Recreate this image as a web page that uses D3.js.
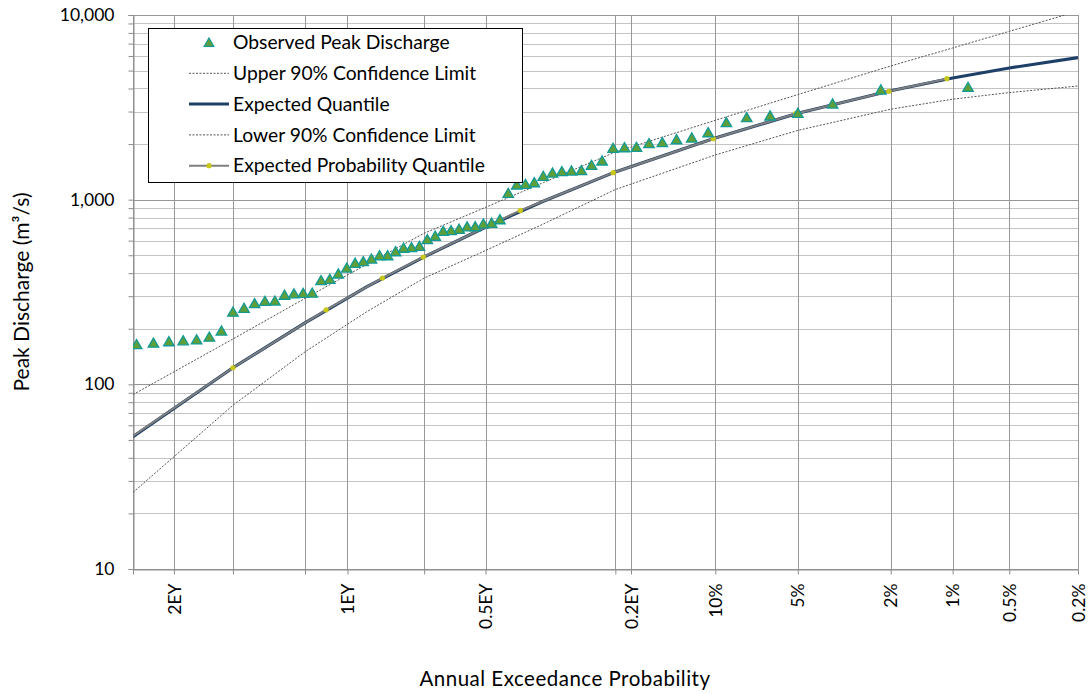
<!DOCTYPE html>
<html>
<head>
<meta charset="utf-8">
<script src="https://cdn.jsdelivr.net/npm/d3@7"></script>
<style>
  html, body { margin: 0; padding: 0; background: #fff; }
  svg { display: block; font-family: "Lato", "Liberation Sans", sans-serif; }
</style>
</head>
<body>
<svg id="chart" width="1090" height="694"></svg>
<script>
// ---------------- DATA ----------------
// Observed annual peaks (rank 1 = largest), plotting-position AEP and discharge (m3/s)
const obsAEP = [0.00833,0.0222,0.0361,0.0500,0.0639,0.0778,0.0917,0.1056,0.1194,0.1333,
  0.1472,0.1611,0.1750,0.1889,0.2028,0.2167,0.2306,0.2444,0.2583,0.2722,
  0.2861,0.3000,0.3139,0.3278,0.3417,0.3556,0.3694,0.3833,0.3972,0.4111,
  0.4250,0.4389,0.4528,0.4667,0.4806,0.4944,0.5083,0.5222,0.5361,0.5500,
  0.5639,0.5778,0.5917,0.6056,0.6194,0.6333,0.6472,0.6611,0.6750,0.6889,
  0.7028,0.7167,0.7306,0.7444,0.7583,0.7722,0.7861,0.8000,0.8139,0.8278,
  0.8417,0.8556,0.8694,0.8833,0.8972];
const obsQ = [4010,3877,3256,2900,2804,2745,2579,2276,2131,2086,
  2010,1985,1897,1888,1874,1600,1516,1418,1412,1400,
  1377,1322,1220,1196,1186,1069,769,736,729,705,
  703,683,671,666,626,600,552,543,539,516,
  491,491,471,456,447,421,391,366,360,308,
  307,305,300,279,278,270,255,243,192,178,
  172,170,168,165,162];

// Fitted curves at these AEPs
const curveAEP  = [0.9, 0.8, 0.7, 0.6, 0.5, 0.4, 0.3, 0.2, 0.1, 0.05, 0.02, 0.01, 0.005, 0.002];
const expectedQ = [52, 123, 215, 337, 490, 694, 981, 1414, 2158, 2936, 3891, 4559, 5164, 5872];
const upperQ    = [88, 176, 292, 446, 658, 890, 1237, 1812, 2690, 3707, 5295, 6627, 8159, 10486];
const lowerQ    = [26, 77, 150, 247, 376, 519, 738, 1135, 1746, 2372, 3090, 3500, 3801, 4126];

// Expected probability quantile points
const epAEP = [0.95, 0.8, 0.667, 0.573, 0.5016, 0.336, 0.2026, 0.1016, 0.0510, 0.0204, 0.0107];
const epQ   = [26, 123, 253, 376, 489, 874, 1400, 2139, 2922, 3862, 4519];

// Axis ticks
const xTickAEP    = [0.9, 0.864665, 0.8, 0.7, 0.632121, 0.5, 0.393469, 0.2, 0.181269, 0.1, 0.05, 0.02, 0.01, 0.005, 0.002];
const xTickLabels = ["", "2EY", "", "", "1EY", "", "0.5EY", "", "0.2EY", "10%", "5%", "2%", "1%", "0.5%", "0.2%"];
const yMajorTicks = [10, 100, 1000, 10000];
const yMinorTicks = [20,30,40,50,60,70,80,90,200,300,400,500,600,700,800,900,2000,3000,4000,5000,6000,7000,8000,9000];

const legendItems = ["Observed Peak Discharge", "Upper 90% Confidence Limit", "Expected Quantile",
                     "Lower 90% Confidence Limit", "Expected Probability Quantile"];

// ---------------- HELPERS ----------------
function probit(p) {
  const a=[-3.969683028665376e+01,2.209460984245205e+02,-2.759285104469687e+02,1.383577518672690e+02,-3.066479806614716e+01,2.506628277459239e+00];
  const b=[-5.447609879822406e+01,1.615858368580409e+02,-1.556989798598866e+02,6.680131188771972e+01,-1.328068155288572e+01];
  const c=[-7.784894002430293e-03,-3.223964580411365e-01,-2.400758277161838e+00,-2.549732539343734e+00,4.374664141464968e+00,2.938163982698783e+00];
  const d=[7.784695709041462e-03,3.224671290700398e-01,2.445134137142996e+00,3.754408661907416e+00];
  const pl=0.02425, ph=1-pl;
  let q, r;
  if (p < pl) { q=Math.sqrt(-2*Math.log(p)); return (((((c[0]*q+c[1])*q+c[2])*q+c[3])*q+c[4])*q+c[5])/((((d[0]*q+d[1])*q+d[2])*q+d[3])*q+1); }
  if (p <= ph) { q=p-0.5; r=q*q; return (((((a[0]*r+a[1])*r+a[2])*r+a[3])*r+a[4])*r+a[5])*q/(((((b[0]*r+b[1])*r+b[2])*r+b[3])*r+b[4])*r+1); }
  q=Math.sqrt(-2*Math.log(1-p)); return -(((((c[0]*q+c[1])*q+c[2])*q+c[3])*q+c[4])*q+c[5])/((((d[0]*q+d[1])*q+d[2])*q+d[3])*q+1);
}
const zOf = aep => probit(1 - aep);

// ---------------- LAYOUT ----------------
const L = 133, R = 1078, T = 15, B = 569;
const svg = d3.select("#chart");

const xz = d3.scaleLinear().domain([zOf(0.9), zOf(0.002)]).range([L, R]);
const x = aep => xz(zOf(aep));
const y = d3.scaleLog().domain([10, 10000]).range([B, T]);

svg.append("defs").append("clipPath").attr("id", "plotclip")
  .append("rect").attr("x", L).attr("y", T).attr("width", R - L).attr("height", B - T);

// gridlines
const grid = svg.append("g");
grid.selectAll("line.hmin").data(yMinorTicks).join("line")
  .attr("x1", L).attr("x2", R).attr("y1", d => Math.round(y(d)) + 0.5).attr("y2", d => Math.round(y(d)) + 0.5)
  .attr("stroke", "#c4c4c4").attr("stroke-width", 1);
grid.selectAll("line.hmaj").data(yMajorTicks).join("line")
  .attr("x1", L).attr("x2", R).attr("y1", d => Math.round(y(d)) + 0.5).attr("y2", d => Math.round(y(d)) + 0.5)
  .attr("stroke", "#979797").attr("stroke-width", 1);
grid.selectAll("line.v").data(xTickAEP).join("line")
  .attr("x1", d => Math.round(x(d)) + 0.5).attr("x2", d => Math.round(x(d)) + 0.5)
  .attr("y1", T).attr("y2", B)
  .attr("stroke", "#979797").attr("stroke-width", 1);

// axes
const yAxis = d3.axisLeft(y).tickValues(yMajorTicks.concat(yMinorTicks))
  .tickSize(5).tickPadding(14)
  .tickFormat(d => yMajorTicks.includes(d) ? d3.format(",")(d) : "");
const gy = svg.append("g").attr("transform", `translate(${L + 0.5},0)`).call(yAxis);
gy.select(".domain").attr("stroke", "#8c8c8c");
gy.selectAll(".tick line").attr("stroke", "#8c8c8c");
gy.selectAll(".tick text").attr("font-size", 17.5).attr("fill", "#000")
  .attr("font-family", "Lato, 'Liberation Sans', sans-serif");

const xAxis = d3.axisBottom(xz).tickValues(xTickAEP.map(zOf)).tickSize(5).tickSizeOuter(0)
  .tickFormat((d, i) => xTickLabels[i]);
const gx = svg.append("g").attr("transform", `translate(0,${B + 0.5})`).call(xAxis);
gx.select(".domain").attr("stroke", "#8c8c8c");
gx.selectAll(".tick line").attr("stroke", "#8c8c8c");
gx.selectAll(".tick text").attr("font-size", 17.5).attr("fill", "#000")
  .attr("font-family", "Lato, 'Liberation Sans', sans-serif")
  .attr("transform", "rotate(-90)")
  .attr("text-anchor", "end").attr("dy", "0.35em").attr("y", 0).attr("x", -14);

// series
const plot = svg.append("g").attr("clip-path", "url(#plotclip)");
const line = d3.line().x(d => x(d[0])).y(d => y(d[1]));

plot.append("path").datum(curveAEP.map((a, i) => [a, upperQ[i]])).attr("d", line)
  .attr("fill", "none").attr("stroke", "#555").attr("stroke-width", 1).attr("stroke-dasharray", "2,1.5");
plot.append("path").datum(curveAEP.map((a, i) => [a, lowerQ[i]])).attr("d", line)
  .attr("fill", "none").attr("stroke", "#555").attr("stroke-width", 1).attr("stroke-dasharray", "2,1.5");
plot.append("path").datum(curveAEP.map((a, i) => [a, expectedQ[i]])).attr("d", line)
  .attr("fill", "none").attr("stroke", "#1e4068").attr("stroke-width", 3.2);
plot.append("path").datum(epAEP.map((a, i) => [a, epQ[i]])).attr("d", line)
  .attr("fill", "none").attr("stroke", "#7f7f7f").attr("stroke-width", 2);
plot.selectAll("circle.ep").data(epAEP.map((a, i) => [a, epQ[i]])).join("circle")
  .attr("cx", d => x(d[0])).attr("cy", d => y(d[1])).attr("r", 2.6)
  .attr("fill", "#c8c81a");

const tri = d3.symbol().type(d3.symbolTriangle).size(48);
plot.selectAll("path.obs").data(obsAEP.map((a, i) => [a, obsQ[i]])).join("path")
  .attr("d", tri).attr("transform", d => `translate(${x(d[0])},${y(d[1])})`)
  .attr("fill", "#5f9f38").attr("stroke", "#139a96").attr("stroke-width", 1.3);

// legend
const lg = svg.append("g");
lg.append("rect").attr("x", 148.5).attr("y", 28.5).attr("width", 374).attr("height", 154)
  .attr("fill", "#fff").attr("stroke", "#000").attr("stroke-width", 1);
const rowY = i => 42.5 + i * 30.8;
legendItems.forEach((t, i) => {
  lg.append("text").attr("x", 233).attr("y", rowY(i)).attr("dy", "0.35em")
    .attr("font-size", 19.3).attr("fill", "#000").text(t);
});
lg.append("path").attr("d", d3.symbol().type(d3.symbolTriangle).size(40)())
  .attr("transform", `translate(209,${rowY(0) + 1})`)
  .attr("fill", "#5f9f38").attr("stroke", "#139a96").attr("stroke-width", 1.2);
[1, 3].forEach(i => lg.append("line").attr("x1", 189).attr("x2", 229).attr("y1", rowY(i)).attr("y2", rowY(i))
  .attr("stroke", "#555").attr("stroke-width", 1).attr("stroke-dasharray", "2,1.5"));
lg.append("line").attr("x1", 189).attr("x2", 229).attr("y1", rowY(2)).attr("y2", rowY(2))
  .attr("stroke", "#1e4068").attr("stroke-width", 3);
lg.append("line").attr("x1", 189).attr("x2", 229).attr("y1", rowY(4)).attr("y2", rowY(4))
  .attr("stroke", "#7f7f7f").attr("stroke-width", 2);
lg.append("circle").attr("cx", 209).attr("cy", rowY(4)).attr("r", 2.6).attr("fill", "#c8c81a");

// titles
svg.append("text").attr("x", 565).attr("y", 686).attr("text-anchor", "middle")
  .attr("font-size", 20.5).attr("letter-spacing", 0.5).attr("fill", "#000").text("Annual Exceedance Probability");
svg.append("text").attr("transform", "translate(22,292) rotate(-90)").attr("dy", "0.35em")
  .attr("text-anchor", "middle").attr("font-size", 21).attr("fill", "#000").text("Peak Discharge (m³/s)");
</script>
</body>
</html>
